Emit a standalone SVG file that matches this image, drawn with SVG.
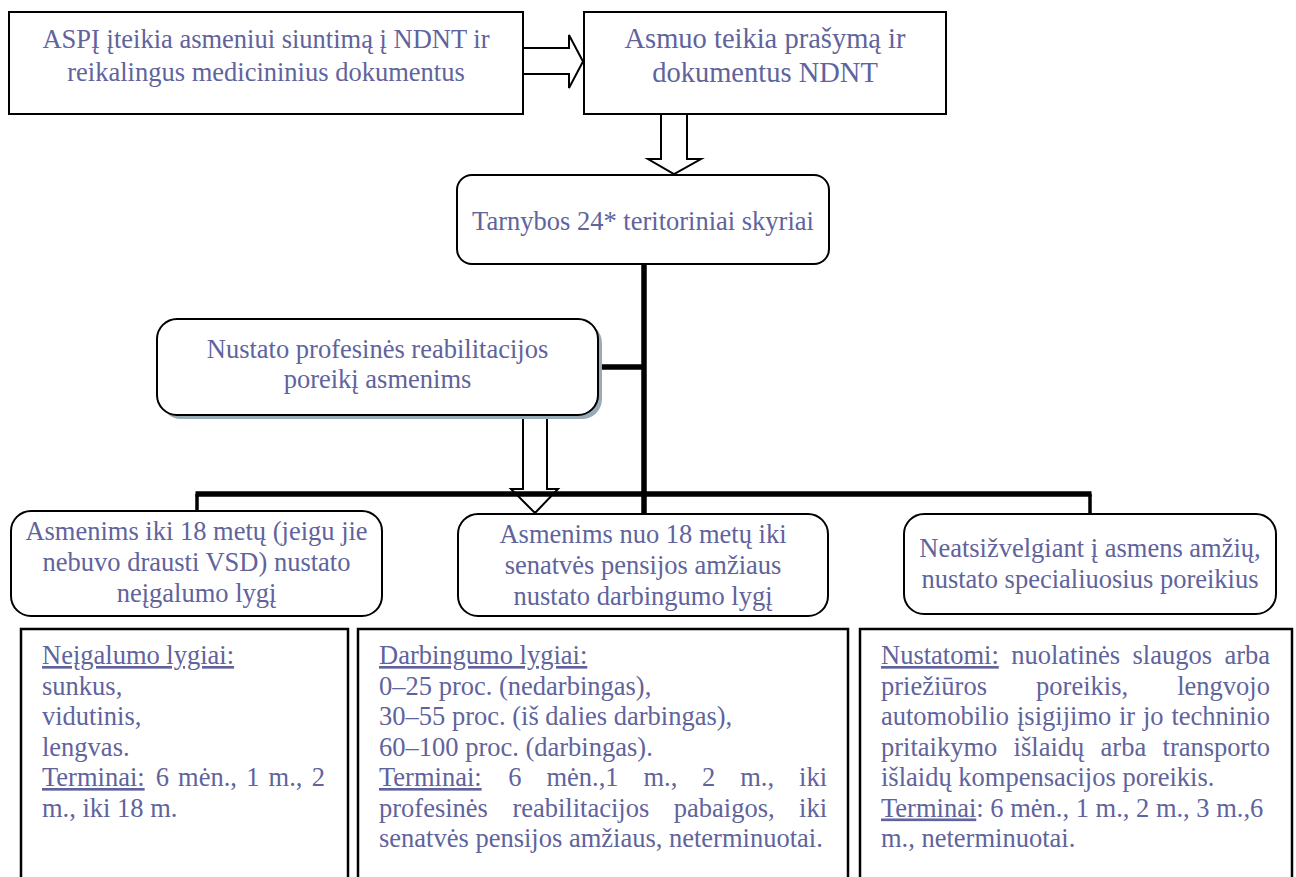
<svg xmlns="http://www.w3.org/2000/svg" width="1296" height="877" viewBox="0 0 1296 877">
<style>
  text { font-family: "Liberation Serif", "Times New Roman", serif; fill: #60639c; font-size: 26.5px; }
  .c { text-anchor: middle; }
  .e { text-anchor: end; }
  .u { text-decoration: underline; }
  .box { fill: #ffffff; stroke: #000000; stroke-width: 2; }
  .tbl { fill: #ffffff; stroke: #000000; stroke-width: 2.5; }
  .thick { fill: none; stroke: #000000; stroke-width: 5.5; }
  .thin3 { fill: none; stroke: #000000; stroke-width: 3.5; }
  .hollow { fill: #ffffff; stroke: #000000; stroke-width: 2; stroke-linejoin: miter; }
</style>
<rect width="1296" height="877" fill="#ffffff"/>

<g id="connectors">
  <polygon class="hollow" points="523,48 569,48 569,35 583,61.5 569,88 569,74 523,74"/>
  <polygon class="hollow" points="661,114 687,114 687,159 701,159 674,174 648,159 661,159"/>
  <polygon class="hollow" points="523,415 547,415 547,489 558,489 535,513 511,489 523,489"/>
  <line class="thick" x1="644" y1="264" x2="644" y2="514"/>
  <line class="thick" x1="598" y1="367" x2="644" y2="367"/>
  <polyline class="thin3" points="197,511 197,494"/>
  <polyline class="thin3" points="1090,514 1090,494"/>
  <line class="thick" x1="195.5" y1="494" x2="1091.5" y2="494"/>
</g>

<g id="n-aspi">
  <rect class="box" x="9" y="12" width="514" height="102"/>
  <text class="c" x="266" y="47.5">ASPĮ įteikia asmeniui siuntimą į NDNT ir</text>
  <text class="c" x="266" y="80.5">reikalingus medicininius dokumentus</text>
</g>

<g id="n-asmuo">
  <rect class="box" x="584" y="12" width="362" height="102"/>
  <text class="c" x="765" y="48" style="font-size:28.5px">Asmuo teikia prašymą ir</text>
  <text class="c" x="765" y="82" style="font-size:28.5px">dokumentus NDNT</text>
</g>

<g id="n-tarnybos">
  <rect class="box" x="457" y="175" width="372" height="89" rx="15" ry="15"/>
  <text class="c" x="643" y="230">Tarnybos 24* teritoriniai skyriai</text>
</g>

<g id="n-profesine">
  <rect x="161" y="323" width="441" height="96" rx="20" ry="20" fill="#9aabb8"/>
  <rect class="box" x="157" y="319" width="441" height="96" rx="20" ry="20"/>
  <text class="c" x="377.5" y="358">Nustato profesinės reabilitacijos</text>
  <text class="c" x="377.5" y="388">poreikį asmenims</text>
</g>

<g id="n-iki18">
  <rect class="box" x="11" y="511" width="371" height="105" rx="20" ry="20"/>
  <text class="c" x="196.5" y="540">Asmenims iki 18 metų (jeigu jie</text>
  <text class="c" x="196.5" y="571">nebuvo drausti VSD) nustato</text>
  <text class="c" x="196.5" y="602">neįgalumo lygį</text>
</g>

<g id="n-nuo18">
  <rect class="box" x="458" y="514" width="370" height="102" rx="20" ry="20"/>
  <text class="c" x="643" y="543">Asmenims nuo 18 metų iki</text>
  <text class="c" x="643" y="574">senatvės pensijos amžiaus</text>
  <text class="c" x="643" y="605">nustato darbingumo lygį</text>
</g>

<g id="n-specialieji">
  <rect class="box" x="904" y="514" width="372" height="100" rx="20" ry="20"/>
  <text class="c" x="1090" y="557">Neatsižvelgiant į asmens amžių,</text>
  <text class="c" x="1090" y="588">nustato specialiuosius poreikius</text>
</g>

<g id="t-neigalumo">
  <rect class="tbl" x="21" y="629" width="327" height="280"/>
  <text x="42" y="664"><tspan class="u">Neįgalumo lygiai:</tspan></text>
  <text x="42" y="694.5">sunkus,</text>
  <text x="42" y="725">vidutinis,</text>
  <text x="42" y="755.5">lengvas.</text>
  <text y="786"><tspan x="42" class="u">Terminai:</tspan><tspan x="155.7">6</tspan><tspan x="178.1">mėn.,</tspan><tspan x="246.2">1</tspan><tspan x="268.6">m.,</tspan></text>
  <text class="e" x="325" y="786">2</text>
  <text x="42" y="816.5">m., iki 18 m.</text>
</g>

<g id="t-darbingumo">
  <rect class="tbl" x="358" y="629" width="490" height="280"/>
  <text x="379" y="664"><tspan class="u">Darbingumo lygiai:</tspan></text>
  <text x="379" y="694.5">0–25 proc. (nedarbingas),</text>
  <text x="379" y="725">30–55 proc. (iš dalies darbingas),</text>
  <text x="379" y="755.5">60–100 proc. (darbingas).</text>
  <text y="786"><tspan x="379" class="u">Terminai:</tspan><tspan x="508.3">6</tspan><tspan x="546.4">mėn.,1</tspan><tspan x="643.4">m.,</tspan><tspan x="702.1">2</tspan><tspan x="740.2">m.,</tspan></text>
  <text class="e" x="827" y="786">iki</text>
  <text y="816.5"><tspan x="379">profesinės</tspan><tspan x="512.4">reabilitacijos</tspan><tspan x="673.8">pabaigos,</tspan></text>
  <text class="e" x="827" y="816.5">iki</text>
  <text x="379" y="847">senatvės pensijos amžiaus, neterminuotai.</text>
</g>

<g id="t-nustatomi">
  <rect class="tbl" x="860" y="629" width="432" height="280"/>
  <text y="664"><tspan x="881" class="u">Nustatomi:</tspan><tspan x="1011.2">nuolatinės</tspan><tspan x="1132.5">slaugos</tspan></text>
  <text class="e" x="1270" y="664">arba</text>
  <text y="694.5"><tspan x="881">priežiūros</tspan><tspan x="1036.1">poreikis,</tspan></text>
  <text class="e" x="1270" y="694.5">lengvojo</text>
  <text y="725"><tspan x="881">automobilio</tspan><tspan x="1017">įsigijimo</tspan><tspan x="1119">ir</tspan><tspan x="1143">jo</tspan></text>
  <text class="e" x="1270" y="725">techninio</text>
  <text y="755.5"><tspan x="881">pritaikymo</tspan><tspan x="1013.6">išlaidų</tspan><tspan x="1100.6">arba</tspan></text>
  <text class="e" x="1270" y="755.5">transporto</text>
  <text x="881" y="786">išlaidų kompensacijos poreikis.</text>
  <text x="881" y="816.5"><tspan class="u">Terminai</tspan>: 6 mėn., 1 m., 2 m., 3 m.,6</text>
  <text x="881" y="847">m., neterminuotai.</text>
</g>
</svg>
